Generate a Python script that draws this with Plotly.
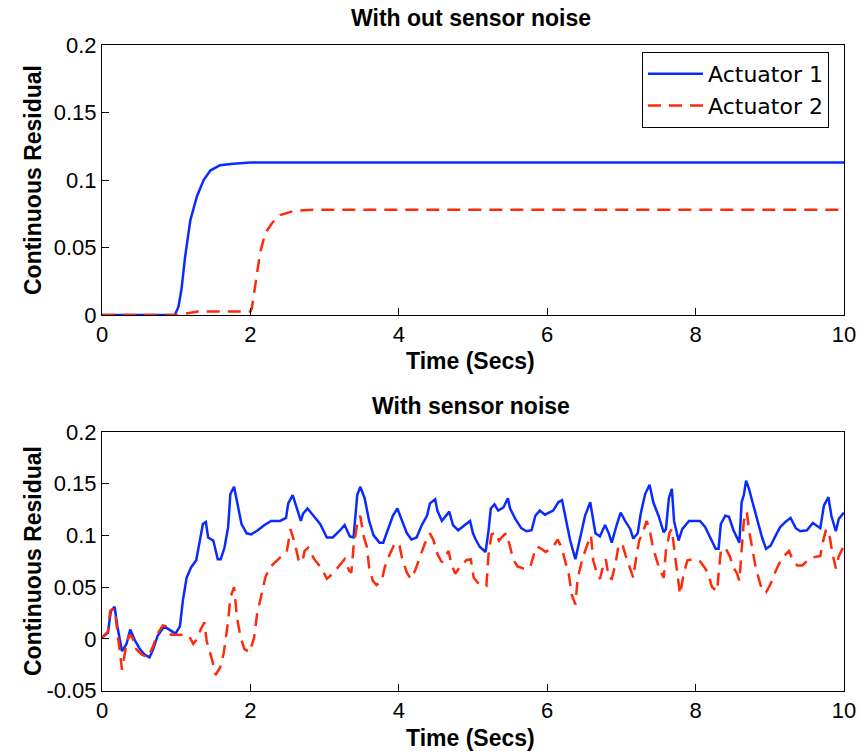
import plotly.graph_objects as go

# ---- Top panel (no sensor noise) ----
top_t1 = [0, 0.98, 1.03, 1.07, 1.12, 1.19, 1.28, 1.37, 1.46, 1.59, 1.77, 2.0, 10]
top_v1 = [0, 0, 0.006, 0.0185, 0.043, 0.070, 0.088, 0.100, 0.107, 0.111, 0.112, 0.113, 0.113]
top_t2 = [0, 1.0, 1.3, 2.0, 2.02, 2.06, 2.13, 2.20, 2.29, 2.40, 2.58, 2.85, 10]
top_v2 = [0, 0, 0.0025, 0.0025, 0.005, 0.021, 0.046, 0.0605, 0.068, 0.074, 0.077, 0.078, 0.078]

# ---- Bottom panel (with sensor noise) ----
bot_t1 = [0, 0.08, 0.12, 0.17, 0.21, 0.27, 0.33, 0.38, 0.44, 0.51, 0.57, 0.64, 0.69, 0.75,
          0.84, 0.91, 0.99, 1.05, 1.09, 1.14, 1.20, 1.27, 1.32, 1.36, 1.40, 1.43, 1.50, 1.56,
          1.60, 1.65, 1.70, 1.73, 1.78, 1.82, 1.88, 1.95, 2.01, 2.10, 2.19, 2.28, 2.40, 2.48,
          2.51, 2.57, 2.62, 2.68, 2.71, 2.77, 2.85, 2.94, 3.03, 3.11, 3.21, 3.27, 3.34, 3.39,
          3.44, 3.48, 3.54, 3.60, 3.66, 3.74, 3.79, 3.86, 3.92, 3.98, 4.04, 4.11, 4.17, 4.24,
          4.31, 4.38, 4.42, 4.49, 4.52, 4.58, 4.68, 4.73, 4.80, 4.89, 4.96, 5.00, 5.03, 5.09,
          5.17, 5.21, 5.24, 5.29, 5.34, 5.41, 5.47, 5.50, 5.57, 5.65, 5.72, 5.79, 5.84, 5.90,
          5.97, 6.08, 6.15, 6.20, 6.25, 6.31, 6.38, 6.44, 6.51, 6.58, 6.62, 6.65, 6.71, 6.78,
          6.83, 6.87, 6.94, 6.99, 7.05, 7.12, 7.16, 7.22, 7.26, 7.32, 7.38, 7.43, 7.50, 7.57,
          7.60, 7.64, 7.68, 7.71, 7.77, 7.82, 7.91, 8.06, 8.13, 8.20, 8.27, 8.31, 8.34, 8.40,
          8.45, 8.51, 8.56, 8.59, 8.62, 8.65, 8.68, 8.72, 8.76, 8.81, 8.85, 8.90, 8.95, 9.01,
          9.08, 9.14, 9.21, 9.28, 9.35, 9.41, 9.50, 9.58, 9.68, 9.73, 9.79, 9.83, 9.89, 9.93, 10.0]
bot_v1 = [0.001, 0.006, 0.027, 0.031, 0.011, -0.012, -0.005, 0.009, -0.001, -0.010, -0.015, -0.018, -0.010, 0.003,
          0.012, 0.009, 0.005, 0.012, 0.037, 0.059, 0.069, 0.076, 0.095, 0.111, 0.113, 0.098, 0.095, 0.077,
          0.077, 0.088, 0.108, 0.140, 0.147, 0.132, 0.111, 0.102, 0.101, 0.105, 0.110, 0.114, 0.114, 0.117,
          0.131, 0.139, 0.127, 0.114, 0.121, 0.126, 0.119, 0.111, 0.098, 0.098, 0.105, 0.110, 0.099, 0.098,
          0.139, 0.147, 0.136, 0.114, 0.100, 0.093, 0.093, 0.106, 0.119, 0.126, 0.114, 0.102, 0.096, 0.098,
          0.110, 0.119, 0.131, 0.135, 0.124, 0.114, 0.123, 0.110, 0.105, 0.110, 0.114, 0.102, 0.097, 0.089,
          0.084, 0.105, 0.126, 0.130, 0.124, 0.127, 0.136, 0.126, 0.116, 0.107, 0.104, 0.105, 0.119, 0.124,
          0.120, 0.124, 0.132, 0.134, 0.116, 0.095, 0.077, 0.098, 0.119, 0.132, 0.116, 0.102, 0.099, 0.110,
          0.102, 0.093, 0.111, 0.122, 0.114, 0.106, 0.097, 0.102, 0.121, 0.140, 0.149, 0.132, 0.119, 0.103,
          0.106, 0.136, 0.145, 0.114, 0.095, 0.106, 0.114, 0.114, 0.108, 0.098, 0.087, 0.087, 0.111, 0.119,
          0.118, 0.105, 0.097, 0.093, 0.132, 0.139, 0.153, 0.145, 0.134, 0.121, 0.108, 0.097, 0.087, 0.090,
          0.100, 0.108, 0.113, 0.117, 0.107, 0.104, 0.105, 0.112, 0.107, 0.129, 0.137, 0.119, 0.104, 0.116, 0.122]

bot_t2 = [0, 0.08, 0.11, 0.17, 0.20, 0.24, 0.27, 0.32, 0.37, 0.41, 0.46, 0.53, 0.62, 0.69, 0.74,
          0.82, 0.87, 0.93, 1.05, 1.17, 1.23, 1.29, 1.33, 1.38, 1.41, 1.45, 1.49, 1.53, 1.59, 1.64,
          1.70, 1.73, 1.78, 1.82, 1.87, 1.92, 1.99, 2.05, 2.09, 2.15, 2.20, 2.26, 2.33, 2.42, 2.49,
          2.52, 2.54, 2.60, 2.65, 2.70, 2.73, 2.78, 2.86, 2.96, 3.03, 3.11, 3.21, 3.27, 3.33, 3.36,
          3.39, 3.44, 3.48, 3.53, 3.57, 3.60, 3.65, 3.70, 3.77, 3.81, 3.88, 3.95, 4.01, 4.05, 4.11,
          4.16, 4.22, 4.28, 4.35, 4.42, 4.47, 4.52, 4.58, 4.67, 4.71, 4.76, 4.82, 4.91, 4.97, 5.01,
          5.07, 5.13, 5.18, 5.21, 5.25, 5.30, 5.35, 5.41, 5.45, 5.50, 5.54, 5.60, 5.68, 5.77, 5.81,
          5.85, 5.90, 5.98, 6.08, 6.14, 6.19, 6.23, 6.29, 6.33, 6.38, 6.41, 6.47, 6.53, 6.59, 6.62,
          6.67, 6.71, 6.76, 6.79, 6.83, 6.87, 6.92, 6.96, 7.01, 7.06, 7.12, 7.16, 7.20, 7.24, 7.30,
          7.34, 7.38, 7.42, 7.46, 7.51, 7.57, 7.60, 7.65, 7.68, 7.72, 7.77, 7.79, 7.84, 7.89, 7.97,
          8.06, 8.13, 8.17, 8.22, 8.29, 8.31, 8.34, 8.40, 8.46, 8.51, 8.56, 8.59, 8.62, 8.65, 8.69,
          8.72, 8.77, 8.81, 8.86, 8.90, 8.95, 9.01, 9.07, 9.12, 9.19, 9.26, 9.31, 9.37, 9.44, 9.51,
          9.60, 9.68, 9.72, 9.76, 9.81, 9.84, 9.89, 9.93, 10.0]
bot_v2 = [0.001, 0.007, 0.027, 0.029, 0.011, -0.015, -0.030, -0.009, 0.004, 0.001, -0.010, -0.015, -0.018, -0.007, 0.004,
          0.013, 0.012, 0.004, 0.004, 0.003, -0.005, 0.001, 0.009, 0.016, -0.002, -0.012, -0.022, -0.035, -0.028, -0.014,
          0.017, 0.040, 0.050, 0.020, 0.001, -0.010, -0.013, 0.001, 0.024, 0.043, 0.059, 0.069, 0.074, 0.080, 0.084,
          0.100, 0.106, 0.092, 0.076, 0.074, 0.085, 0.088, 0.077, 0.068, 0.058, 0.063, 0.072, 0.077, 0.066, 0.064,
          0.089, 0.111, 0.119, 0.098, 0.089, 0.069, 0.056, 0.052, 0.056, 0.069, 0.082, 0.093, 0.090, 0.076, 0.064,
          0.058, 0.066, 0.079, 0.092, 0.102, 0.095, 0.082, 0.074, 0.085, 0.072, 0.063, 0.069, 0.076, 0.077, 0.059,
          0.054, 0.051, 0.051, 0.082, 0.101, 0.103, 0.095, 0.100, 0.102, 0.089, 0.077, 0.070, 0.068, 0.069, 0.080,
          0.089, 0.088, 0.084, 0.089, 0.096, 0.089, 0.079, 0.063, 0.043, 0.033, 0.058, 0.076, 0.089, 0.100, 0.076,
          0.063, 0.058, 0.072, 0.077, 0.059, 0.058, 0.072, 0.090, 0.092, 0.080, 0.068, 0.059, 0.079, 0.095, 0.105,
          0.114, 0.106, 0.090, 0.080, 0.068, 0.059, 0.085, 0.103, 0.106, 0.082, 0.056, 0.043, 0.063, 0.076, 0.077,
          0.075, 0.068, 0.063, 0.050, 0.046, 0.063, 0.085, 0.088, 0.080, 0.069, 0.063, 0.056, 0.089, 0.114, 0.123,
          0.105, 0.085, 0.069, 0.056, 0.046, 0.045, 0.053, 0.064, 0.072, 0.080, 0.085, 0.076, 0.071, 0.071, 0.076,
          0.079, 0.080, 0.095, 0.106, 0.098, 0.084, 0.068, 0.080, 0.090]

series_names = ["Actuator 1", "Actuator 2"]
x_ticks = [0, 2, 4, 6, 8, 10]
top_yticks = [0, 0.05, 0.1, 0.15, 0.2]
top_ytext = ["0", "0.05", "0.1", "0.15", "0.2"]
bot_yticks = [-0.05, 0, 0.05, 0.1, 0.15, 0.2]
bot_ytext = ["-0.05", "0", "0.05", "0.1", "0.15", "0.2"]

BLUE = "#0a2bff"
RED = "#ff2a0a"
FONT = "Liberation Sans"
W, H = 860, 754

fig = go.Figure()
fig.add_trace(go.Scatter(x=top_t1, y=top_v1, mode="lines", name=series_names[0],
                         line=dict(color=BLUE, width=2.5), xaxis="x", yaxis="y"))
fig.add_trace(go.Scatter(x=top_t2, y=top_v2, mode="lines", name=series_names[1],
                         line=dict(color=RED, width=2.5, dash="13px,8px"), xaxis="x", yaxis="y"))
fig.add_trace(go.Scatter(x=bot_t1, y=bot_v1, mode="lines", name=series_names[0], showlegend=False,
                         line=dict(color=BLUE, width=2.5), xaxis="x2", yaxis="y2"))
fig.add_trace(go.Scatter(x=bot_t2, y=bot_v2, mode="lines", name=series_names[1], showlegend=False,
                         line=dict(color=RED, width=2.5, dash="13px,8px"), xaxis="x2", yaxis="y2"))

xl, xr = 102 / W, 844 / W
def ydom(top_px, bot_px):
    return [1 - bot_px / H, 1 - top_px / H]

axis_common = dict(showline=True, mirror=True, linecolor="black", linewidth=1,
                   ticks="inside", ticklen=7, tickcolor="black", showgrid=False, zeroline=False,
                   automargin=False,
                   tickfont=dict(family=FONT, size=22, color="black"))

fig.update_layout(
    template="none",
    width=W, height=H, margin=dict(l=0, r=0, t=0, b=0, pad=0, autoexpand=False),
    paper_bgcolor="white", plot_bgcolor="white",
    font=dict(family=FONT, color="black"),
    xaxis=dict(domain=[xl, xr], range=[0, 10], tickvals=x_ticks, anchor="y", **axis_common),
    yaxis=dict(domain=ydom(45, 315), range=[0, 0.2], tickvals=top_yticks, ticktext=top_ytext,
               anchor="x", **axis_common),
    xaxis2=dict(domain=[xl, xr], range=[0, 10], tickvals=x_ticks, anchor="y2", **axis_common),
    yaxis2=dict(domain=ydom(432, 690.5), range=[-0.05, 0.2], tickvals=bot_yticks, ticktext=bot_ytext,
                anchor="x2", **axis_common),
    legend=dict(x=829 / W, xanchor="right", y=1 - 52 / H, yanchor="top",
                bgcolor="white", bordercolor="black", borderwidth=1, itemwidth=55,
                font=dict(family="DejaVu Sans", size=22, color="black"), tracegroupgap=0),
    showlegend=True,
)

def ann(text, xp, yp, angle=0, size=23):
    fig.add_annotation(text=text, x=xp / W, y=1 - yp / H, xref="paper", yref="paper",
                       showarrow=False, textangle=angle, xanchor="center", yanchor="middle",
                       font=dict(family=FONT, size=size, color="black"))

ann("<b>With out sensor noise</b>", 471, 18)
ann("<b>With sensor noise</b>", 471, 406)
ann("<b>Time (Secs)</b>", 470, 361)
ann("<b>Time (Secs)</b>", 470, 738)
ann("<b>Continuous Residual</b>", 33, 180, angle=-90)
ann("<b>Continuous Residual</b>", 33, 561, angle=-90)

fig.write_html("out.html")
